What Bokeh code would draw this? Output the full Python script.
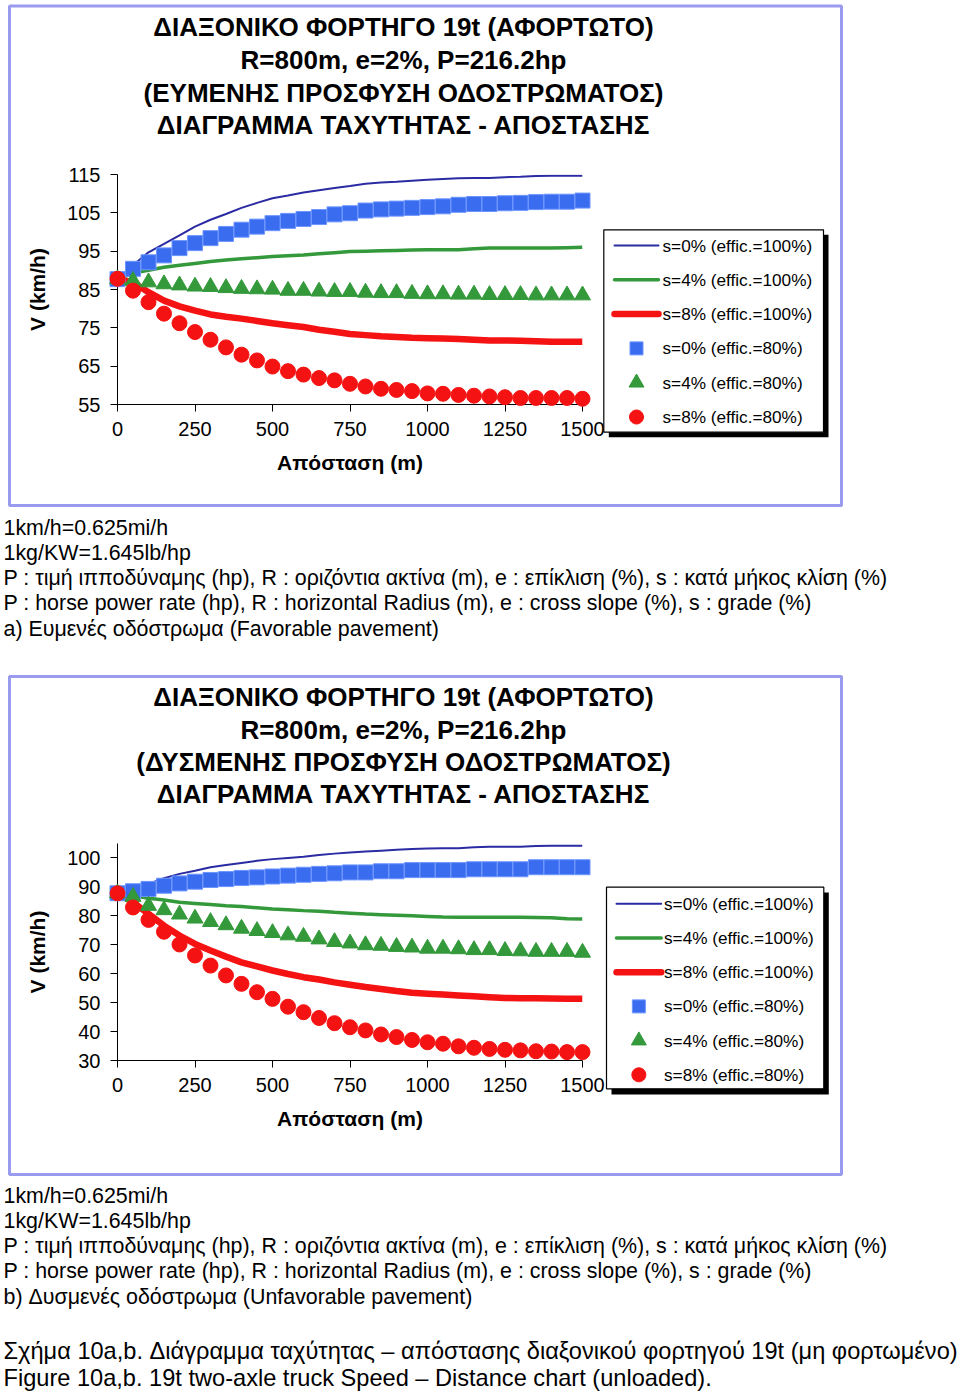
import math
from bokeh.plotting import figure
from bokeh.models import Range1d, FixedTicker
from bokeh.layouts import column
from bokeh.core.properties import value
from bokeh.embed import file_html
from bokeh.resources import INLINE

# ---------------- data ----------------
DIST = [0, 50, 100, 150, 200, 250, 300, 350, 400, 450, 500, 550, 600, 650, 700, 750,
        800, 850, 900, 950, 1000, 1050, 1100, 1150, 1200, 1250, 1300, 1350, 1400, 1450, 1500]

# a) favorable pavement
A_S0_100 = [87.7, 91.3, 94.7, 96.9, 99.1, 101.4, 103.2, 104.7, 106.3, 107.6, 108.8, 109.5, 110.3, 110.9, 111.5, 112.0,
            112.6, 112.9, 113.1, 113.4, 113.6, 113.8, 114.0, 114.1, 114.1, 114.3, 114.4, 114.6, 114.7, 114.7, 114.7]
A_S4_100 = [87.7, 89.3, 90.0, 90.8, 91.3, 91.8, 92.3, 92.7, 93.0, 93.3, 93.6, 93.8, 94.0, 94.3, 94.6, 94.9,
            95.0, 95.1, 95.2, 95.3, 95.4, 95.4, 95.4, 95.6, 95.8, 95.8, 95.8, 95.8, 95.8, 95.9, 96.0]
A_S8_100 = [87.7, 86.9, 84.3, 82.1, 80.6, 79.5, 78.5, 77.9, 77.4, 76.8, 76.2, 75.7, 75.2, 74.5, 74.0, 73.4,
            73.1, 72.8, 72.6, 72.4, 72.3, 72.2, 72.1, 71.9, 71.7, 71.7, 71.6, 71.5, 71.4, 71.4, 71.4]
A_S0_80 = [87.7, 90.4, 92.1, 93.9, 95.8, 97.1, 98.4, 99.5, 100.6, 101.4, 102.3, 102.9, 103.4, 103.9, 104.6, 104.9,
           105.6, 105.9, 106.1, 106.3, 106.5, 106.7, 107.1, 107.3, 107.3, 107.5, 107.6, 107.8, 107.9, 107.9, 108.2]
A_S4_80 = [87.7, 87.3, 86.9, 86.4, 86.1, 85.8, 85.7, 85.4, 85.2, 85.1, 85.0, 84.7, 84.7, 84.5, 84.4, 84.4,
           84.2, 84.1, 84.1, 83.9, 83.8, 83.8, 83.7, 83.7, 83.6, 83.6, 83.6, 83.5, 83.5, 83.5, 83.5]
A_S8_80 = [87.8, 84.7, 81.7, 78.7, 76.2, 73.9, 71.9, 69.9, 68.0, 66.5, 64.9, 63.7, 62.8, 61.9, 61.3, 60.4,
           59.7, 59.1, 58.8, 58.5, 57.9, 57.8, 57.5, 57.3, 57.1, 56.9, 56.7, 56.7, 56.7, 56.7, 56.5]

# b) unfavorable pavement
B_S0_100 = [87.8, 89.3, 91.0, 93.0, 94.5, 95.6, 96.8, 97.6, 98.3, 99.0, 99.6, 100.0, 100.4, 101.0, 101.5, 101.9,
            102.2, 102.5, 102.8, 103.1, 103.3, 103.4, 103.4, 103.7, 103.9, 103.9, 103.9, 104.1, 104.2, 104.2, 104.2]
B_S4_100 = [87.8, 87.0, 86.1, 85.5, 84.7, 84.3, 83.9, 83.5, 83.2, 82.8, 82.4, 82.1, 81.8, 81.6, 81.2, 80.9,
            80.6, 80.4, 80.2, 80.0, 79.8, 79.6, 79.5, 79.5, 79.5, 79.5, 79.5, 79.4, 79.3, 79.0, 78.9]
B_S8_100 = [87.8, 84.7, 80.7, 76.6, 73.2, 70.3, 68.0, 65.9, 63.9, 62.5, 61.1, 59.9, 58.8, 58.0, 57.0, 56.2,
            55.4, 54.7, 54.0, 53.4, 53.1, 52.8, 52.5, 52.2, 51.9, 51.6, 51.5, 51.5, 51.4, 51.3, 51.3]
B_S0_80 = [87.8, 88.5, 89.3, 90.4, 91.2, 91.8, 92.4, 92.7, 93.1, 93.3, 93.6, 93.9, 94.2, 94.5, 94.7, 95.0,
           95.0, 95.4, 95.4, 95.8, 95.8, 95.8, 95.8, 96.1, 96.1, 96.1, 96.1, 96.8, 96.8, 96.8, 96.8]
B_S4_80 = [87.8, 86.6, 83.5, 82.0, 80.5, 79.1, 77.9, 76.8, 75.6, 74.8, 74.1, 73.3, 72.8, 71.9, 71.0, 70.5,
           69.9, 69.7, 69.3, 69.1, 68.7, 68.7, 68.5, 68.2, 68.2, 67.9, 67.8, 67.6, 67.6, 67.6, 67.3]
B_S8_80 = [87.8, 82.9, 78.6, 74.5, 70.1, 66.3, 62.8, 59.4, 56.5, 53.6, 51.3, 48.6, 46.7, 44.7, 42.9, 41.5,
           40.4, 39.0, 38.1, 37.1, 36.3, 35.8, 34.9, 34.4, 34.0, 33.7, 33.5, 33.2, 33.1, 32.9, 32.9]

X_TICKS = [0, 250, 500, 750, 1000, 1250, 1500]
A_Y_TICKS = [55, 65, 75, 85, 95, 105, 115]
B_Y_TICKS = [30, 40, 50, 60, 70, 80, 90, 100]

LEGEND_LABELS = ["s=0% (effic.=100%)", "s=4% (effic.=100%)", "s=8% (effic.=100%)",
                 "s=0% (effic.=80%)", "s=4% (effic.=80%)", "s=8% (effic.=80%)"]

A_TITLE = ["ΔΙΑΞΟΝΙΚΟ ΦΟΡΤΗΓΟ 19t (ΑΦΟΡΤΩΤΟ)", "R=800m, e=2%, P=216.2hp",
           "(ΕΥΜΕΝΗΣ ΠΡΟΣΦΥΣΗ ΟΔΟΣΤΡΩΜΑΤΟΣ)", "ΔΙΑΓΡΑΜΜΑ ΤΑΧΥΤΗΤΑΣ - ΑΠΟΣΤΑΣΗΣ"]
B_TITLE = ["ΔΙΑΞΟΝΙΚΟ ΦΟΡΤΗΓΟ 19t (ΑΦΟΡΤΩΤΟ)", "R=800m, e=2%, P=216.2hp",
           "(ΔΥΣΜΕΝΗΣ ΠΡΟΣΦΥΣΗ ΟΔΟΣΤΡΩΜΑΤΟΣ)", "ΔΙΑΓΡΑΜΜΑ ΤΑΧΥΤΗΤΑΣ - ΑΠΟΣΤΑΣΗΣ"]
COMMON_NOTES = ["1km/h=0.625mi/h", "1kg/KW=1.645lb/hp",
                "P : τιμή ιπποδύναμης (hp), R : οριζόντια ακτίνα (m), e : επίκλιση (%), s : κατά μήκος κλίση (%)",
                "P : horse power rate (hp), R : horizontal Radius (m), e : cross slope (%), s : grade (%)"]
A_NOTES = COMMON_NOTES + ["a) Ευμενές οδόστρωμα (Favorable pavement)"]
B_NOTES = COMMON_NOTES + ["b) Δυσμενές οδόστρωμα (Unfavorable pavement)"]
CAPTION = ["Σχήμα 10a,b. Διάγραμμα ταχύτητας – απόστασης διαξονικού φορτηγού 19t (μη φορτωμένο)",
           "Figure 10a,b. 19t two-axle truck Speed – Distance chart (unloaded)."]
X_TITLE = "Απόσταση (m)"
Y_TITLE = "V (km/h)"

# ---------------- styling ----------------
FONT = "Liberation Sans"
W = 960
FL, FR = 117, 582
BLUE_LINE = "#2b2ba3"
BLUE_MARK = "#3a6cf0"
GREEN = "#33993a"
RED = "#f51212"
FRAME_COL = "#9a9aee"

LINE_STYLES = [(BLUE_LINE, 2), (GREEN, 3.5), (RED, 6.5)]
MARK_STYLES = [("square", BLUE_MARK, "#6c95ff", 15), ("triangle", GREEN, GREEN, 16),
               ("circle", RED, RED, 15)]


def icon_shape(kind, cx, cy):
    """Outline of a legend icon, in canvas pixels (y grows downward)."""
    if kind == "square":
        r = 6.5
        return [cx - r, cx + r, cx + r, cx - r], [cy - r, cy - r, cy + r, cy + r]
    if kind == "triangle":
        h = 13.0
        return [cx - 7.5, cx + 7.5, cx], [cy + h / 3, cy + h / 3, cy - 2 * h / 3]
    r = 7.0
    n = 28
    return ([cx + r * math.cos(2 * math.pi * k / n) for k in range(n)],
            [cy + r * math.sin(2 * math.pi * k / n) for k in range(n)])


def make_panel(h, ft, fb, y_lo, y_hi, y_ticks, series, titles, title_ys, notes, note_ys,
               leg_geom, leg_box, shadow_box, border_box, caption_ys=None):
    p = figure(width=W, height=h, output_backend="svg", toolbar_location=None,
               x_range=Range1d(0, 1500), y_range=Range1d(y_lo, y_hi),
               min_border_left=FL, min_border_right=W - FR,
               min_border_top=ft, min_border_bottom=h - fb)
    p.extra_x_ranges = {"px": Range1d(FL, FR)}
    p.extra_y_ranges = {"px": Range1d(fb, ft)}
    p.outline_line_color = None
    p.xgrid.visible = False
    p.ygrid.visible = False
    p.background_fill_color = "white"
    p.border_fill_color = "white"

    for ax in (p.xaxis[0], p.yaxis[0]):
        ax.axis_line_color = "black"
        ax.axis_line_width = 1
        ax.major_tick_line_color = "black"
        ax.major_tick_out = 7
        ax.major_tick_in = 0
        ax.minor_tick_line_color = None
        ax.major_label_text_font = FONT
        ax.major_label_text_font_size = "20px"
        ax.major_label_text_color = "black"
        ax.major_label_standoff = 10
        ax.axis_label_text_font = FONT
        ax.axis_label_text_font_style = "bold"
        ax.axis_label_text_font_size = "21px"
        ax.axis_label_text_color = "black"
    p.xaxis.ticker = FixedTicker(ticks=X_TICKS)
    p.yaxis.ticker = FixedTicker(ticks=y_ticks)
    p.xaxis.axis_label = X_TITLE
    p.yaxis.axis_label = Y_TITLE
    p.xaxis.axis_label_standoff = 12
    p.yaxis.axis_label_standoff = 15

    px = dict(x_range_name="px", y_range_name="px")

    # panel frame
    bx0, by0, bx1, by1 = border_box
    p.quad(left=[bx0], right=[bx1], top=[by0], bottom=[by1], fill_alpha=0,
           line_color=FRAME_COL, line_width=3, level="overlay", **px)
    # legend shadow and box (above the axes, below the legend entries)
    sx0, sy0, sx1, sy1 = shadow_box
    p.quad(left=[sx0], right=[sx1], top=[sy0], bottom=[sy1], fill_color="black",
           line_color=None, level="annotation", **px)
    lx0, ly0, lx1, ly1 = leg_box
    p.quad(left=[lx0], right=[lx1], top=[ly0], bottom=[ly1], fill_color="white",
           line_color="black", line_width=1.2, level="annotation", **px)

    # data series
    s0_100, s4_100, s8_100, s0_80, s4_80, s8_80 = series
    for ys, (col, lw) in zip([s0_100, s4_100, s8_100], LINE_STYLES):
        p.line(DIST, ys, line_color=col, line_width=lw)
    for ys, (mk, fc, lc, sz) in zip([s0_80, s4_80, s8_80], MARK_STYLES):
        p.scatter(DIST, ys, marker=mk, size=sz, fill_color=fc, line_color=lc, line_width=1, level="overlay")

    # legend (drawn in pixel space so it can sit outside the plot frame)
    gx0, gx1, lab_x, y0, dy = leg_geom
    gxc = (gx0 + gx1) / 2
    for i, (col, lw) in enumerate(LINE_STYLES):
        yy = y0 + dy * i
        p.line([gx0, gx1], [yy, yy], line_color=col, line_width=lw, line_cap="round", level="overlay", **px)
    for j, (mk, fc, lc, _) in enumerate(MARK_STYLES):
        xs, ys = icon_shape(mk, gxc, y0 + dy * (j + 3))
        p.patch(xs, ys, fill_color=fc, line_color=lc, line_width=1, level="overlay", **px)
    p.text(x=[lab_x] * 6, y=[y0 + dy * k for k in range(6)], text=LEGEND_LABELS,
           text_font=value(FONT), text_font_size="17.2px", text_color="black",
           text_align="left", text_baseline="middle", level="overlay", **px)

    p.text(x=[403] * len(titles), y=title_ys, text=titles,
           text_font=value(FONT), text_font_style="bold", text_font_size="26px", text_color="black",
           text_align="center", text_baseline="middle", level="overlay", **px)
    p.text(x=[3] * len(notes), y=note_ys, text=notes,
           text_font=value(FONT), text_font_size="21.4px", text_color="black",
           text_align="left", text_baseline="middle", level="overlay", **px)
    if caption_ys is not None:
        p.text(x=[3] * len(CAPTION), y=caption_ys, text=CAPTION,
               text_font=value(FONT), text_font_size="23.6px", text_color="black",
               text_align="left", text_baseline="middle", level="overlay", **px)
    return p


pa = make_panel(660, 174, 404, 55, 115, A_Y_TICKS,
                [A_S0_100, A_S4_100, A_S8_100, A_S0_80, A_S4_80, A_S8_80],
                A_TITLE, [26, 59, 92, 124], A_NOTES, [527, 552, 577, 602, 628],
                (614, 658, 662, 245, 34.3), (603.3, 229.3, 823, 431.7), (608.3, 234.3, 828, 436.7),
                (9, 5.5, 841, 505))
pb = make_panel(733, 183, 400, 30, 105, B_Y_TICKS,
                [B_S0_100, B_S4_100, B_S8_100, B_S0_80, B_S4_80, B_S8_80],
                B_TITLE, [36, 69, 101, 133], B_NOTES, [535, 560, 585, 610, 636],
                (616, 660.7, 663.5, 243.3, 34.2), (606, 226.7, 823.3, 428.3), (611, 232, 828.3, 434),
                (9, 16, 841, 514), caption_ys=[690, 717])

layout = column(pa, pb, spacing=0)
open("out.html", "w").write(file_html(layout, INLINE))
